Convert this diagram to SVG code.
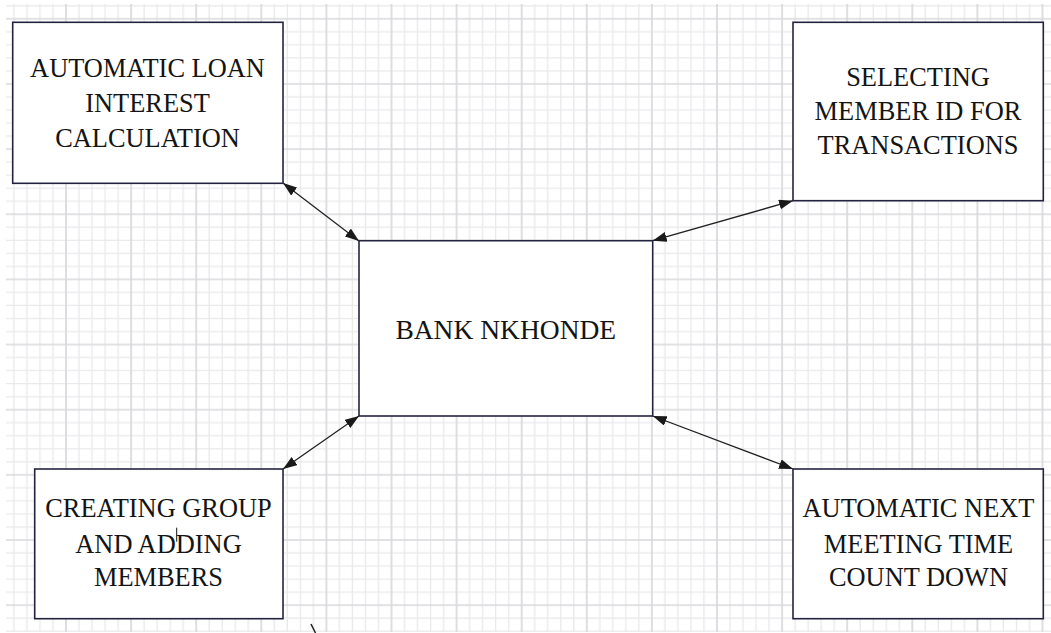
<svg xmlns="http://www.w3.org/2000/svg" width="1051" height="633" viewBox="0 0 1051 633">
  <style>
    .box { fill: #ffffff; stroke: #23233f; stroke-width: 1.6; }
    text { font-size: 26.4px; fill: #141414; text-anchor: middle; }
    .big { font-size: 27.5px; }
    .conn { stroke: #222222; stroke-width: 1.3; fill: none; marker-start: url(#ah); marker-end: url(#ah); }
    .minor { stroke: #e9e9ec; stroke-width: 1.3; }
    .major { stroke: #d9d9dd; stroke-width: 1.7; }
  </style>
  <defs>
    <marker id="ah" markerUnits="userSpaceOnUse" markerWidth="15" markerHeight="11" refX="14" refY="5" orient="auto-start-reverse" viewBox="0 0 15 11">
      <path d="M0,0 L14,5 L0,10 z" fill="#1a1a1a"/>
    </marker>
    <pattern id="grid" patternUnits="userSpaceOnUse" x="-31.65" y="-13.775" width="65.1" height="65.15">
      <path class="minor" d="M6.51,0V65.15M19.53,0V65.15M45.57,0V65.15M58.59,0V65.15M0,6.515H65.1M0,19.545H65.1M0,45.605H65.1M0,58.635H65.1"/>
      <path class="major" d="M32.55,0V65.15M0,32.575H65.1"/>
    </pattern>
  </defs>

  <rect x="0" y="0" width="1051" height="633" fill="#ffffff"/>
  <rect x="6" y="4" width="1045" height="628" fill="url(#grid)"/>

  <g id="connectors">
    <line class="conn" x1="283" y1="183" x2="359" y2="241"/>
    <line class="conn" x1="793" y1="200.7" x2="652.7" y2="240.7"/>
    <line class="conn" x1="359" y1="416" x2="283" y2="469"/>
    <line class="conn" x1="652.7" y1="416" x2="793" y2="469"/>
  </g>

  <g font-family="'Liberation Serif', 'Times New Roman', Tinos, 'DejaVu Serif', serif">
  <g id="node-loan">
    <rect class="box" x="12.7" y="22.3" width="270.3" height="161"/>
    <text x="147.5" y="77.3">AUTOMATIC LOAN</text>
    <text x="147.5" y="112.3">INTEREST</text>
    <text x="147.5" y="146.7">CALCULATION</text>
  </g>

  <g id="node-member">
    <rect class="box" x="793" y="22.3" width="250.3" height="178.4"/>
    <text x="918" y="85.7">SELECTING</text>
    <text x="918" y="120">MEMBER ID FOR</text>
    <text x="918" y="154">TRANSACTIONS</text>
  </g>

  <g id="node-bank">
    <rect class="box" x="359" y="240.7" width="293.7" height="175.3"/>
    <text class="big" x="505.8" y="339">BANK NKHONDE</text>
  </g>

  <g id="node-group">
    <rect class="box" x="34.7" y="469" width="248.3" height="149.7"/>
    <text x="158.5" y="517.3">CREATING GROUP</text>
    <text x="158.5" y="553.3">AND ADDING</text>
    <text x="158.5" y="585.7">MEMBERS</text>
    <line x1="176.7" y1="527.7" x2="176.7" y2="541.7" stroke="#141414" stroke-width="1"/>
  </g>

  <g id="node-meeting">
    <rect class="box" x="793" y="469" width="250.3" height="149.7"/>
    <text x="918.5" y="517.3">AUTOMATIC NEXT</text>
    <text x="918.5" y="553.3">MEETING TIME</text>
    <text x="918.5" y="585.7">COUNT DOWN</text>
  </g>
  </g>

  <line x1="311" y1="624" x2="315.5" y2="633" stroke="#222222" stroke-width="1.5"/>
</svg>
